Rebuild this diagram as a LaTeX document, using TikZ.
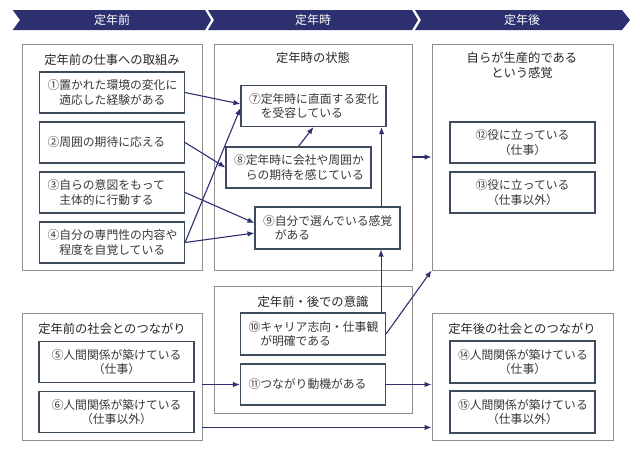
\documentclass[tikz,border=0pt]{standalone}
\usepackage{fontspec}
\setmainfont{Noto Sans CJK JP}
\usetikzlibrary{arrows.meta}
\definecolor{navy}{HTML}{2E2F6E}
\definecolor{boxline}{HTML}{3E4B5B}
\definecolor{panelline}{HTML}{8E8E8E}
\definecolor{txt}{HTML}{383838}
\tikzset{
  panel/.style={draw=panelline, line width=0.9pt, inner sep=0pt},
  ttl/.style={text=black!85, font=\fontsize{12.3}{15}\selectfont, align=center},
  item/.style={draw=boxline, line width=1.1pt, fill=white, minimum width=145pt,
    minimum height=41pt, inner xsep=8pt, inner ysep=2pt, text width=129pt,
    align=left, text=txt, font=\fontsize{11.8}{14.5}\selectfont},
  citem/.style={item, align=center},
  hdr/.style={text=white, font=\fontsize{12}{14}\selectfont},
  arr/.style={draw=navy, line width=1.1pt, -{Latex[length=7pt,width=5.5pt]}}
}
\begin{document}
\begin{tikzpicture}[x=1pt,y=-1pt]
      \useasboundingbox (0,0) rectangle (640,453);
      \fill[navy] (12.7,10) -- (205,10) -- (211,20) -- (205,30) -- (12.7,30) -- (20,20) -- cycle;
      \fill[navy] (208,10) -- (412,10) -- (418,20) -- (412,30) -- (208,30) -- (214,20) -- cycle;
      \fill[navy] (415,10) -- (622,10) -- (630,20) -- (622,30) -- (415,30) -- (421,20) -- cycle;
      \node[hdr] (h1) at (112,20) {定年前};
      \node[hdr] (h2) at (313,20) {定年時};
      \node[hdr] (h3) at (522,20) {定年後};
      \node[panel, minimum width=180pt, minimum height=226pt] (pA) at (112,157) {};
      \node[panel, minimum width=198pt, minimum height=226pt] (pB) at (313,157) {};
      \node[panel, minimum width=181pt, minimum height=226pt] (pC) at (522.5,157) {};
      \node[panel, minimum width=180pt, minimum height=127pt] (pD) at (112,377) {};
      \node[panel, minimum width=198pt, minimum height=127pt] (pE) at (313,349.5) {};
      \node[panel, minimum width=181pt, minimum height=127pt] (pF) at (522.5,377) {};
      \node[ttl] (tA) at (112,60) {定年前の仕事への取組み};
      \node[ttl] (tB) at (313,58) {定年時の状態};
      \node[ttl] (tC) at (522,65.5) {自らが生産的である\\という感覚};
      \node[ttl] (tD) at (112,329) {定年前の社会とのつながり};
      \node[ttl] (tE) at (313,302) {定年前・後での意識};
      \node[ttl] (tF) at (522,329) {定年後の社会とのつながり};
      \node[item] (b1) at (112,92.5) {①置かれた環境の変化に\\\hphantom{①}適応した経験がある};
      \node[item] (b2) at (112,142.5) {②周囲の期待に応える};
      \node[item] (b3) at (112,192.5) {③自らの意図をもって\\\hphantom{③}主体的に行動する};
      \node[item] (b4) at (112,242.5) {④自分の専門性の内容や\\\hphantom{④}程度を自覚している};
      \node[citem, minimum width=155pt, text width=139pt] (b5) at (116.5,362) {⑤人間関係が築けている\\（仕事）};
      \node[citem, minimum width=155pt, text width=139pt] (b6) at (116.5,412) {⑥人間関係が築けている\\（仕事以外）};
      \node[item] (b7) at (313.5,106) {⑦定年時に直面する変化\\\hphantom{⑦}を受容している};
      \node[item] (b8) at (298.5,167.5) {⑧定年時に会社や周囲か\\\hphantom{⑧}らの期待を感じている};
      \node[item, minimum height=42pt] (b9) at (327.5,228) {⑨自分で選んでいる感覚\\\hphantom{⑨}がある};
      \node[item, minimum height=42pt] (b10) at (313,334) {⑩キャリア志向・仕事観\\\hphantom{⑩}が明確である};
      \node[item] (b11) at (313,384.5) {⑪つながり動機がある};
      \node[citem] (b12) at (522.5,142.5) {⑫役に立っている\\（仕事）};
      \node[citem] (b13) at (522.5,192.5) {⑬役に立っている\\（仕事以外）};
      \node[citem, minimum height=42pt] (b14) at (522.5,362) {⑭人間関係が築けている\\（仕事）};
      \node[citem, minimum height=42pt] (b15) at (522.5,412) {⑮人間関係が築けている\\（仕事以外）};
      \coordinate (d6) at ([yshift=13.5pt]pD.south east);
      \begin{scope}[arr]
        \draw (b1.east) to ([yshift=2pt]b7.west);
        \draw (b4.east) to ([yshift=-2pt]b7.west);
        \draw (b2.east) to (b8.west);
        \draw (b3.east) to ([yshift=5pt]b9.west);
        \draw (b4.east) to ([yshift=-5pt]b9.west);
        \draw (b8.north) to (b7.south);
        \draw ([xshift=-19pt]b9.north east) to ([xshift=-19pt]b9.north east |- b7.south);
        \draw ([xshift=-5pt]b10.north east) to ([xshift=-5pt]b10.north east |- b9.south);
        \draw (b10.east) to (pC.south west);
        \draw (pB.east) to (pC.west);
        \draw (pD.east |- b11.west) to (b11.west);
        \draw (b11.east) to (b11.east -| pF.west);
        \draw (d6) to (d6 -| pF.west);
      \end{scope}
    \end{tikzpicture}
\end{document}
